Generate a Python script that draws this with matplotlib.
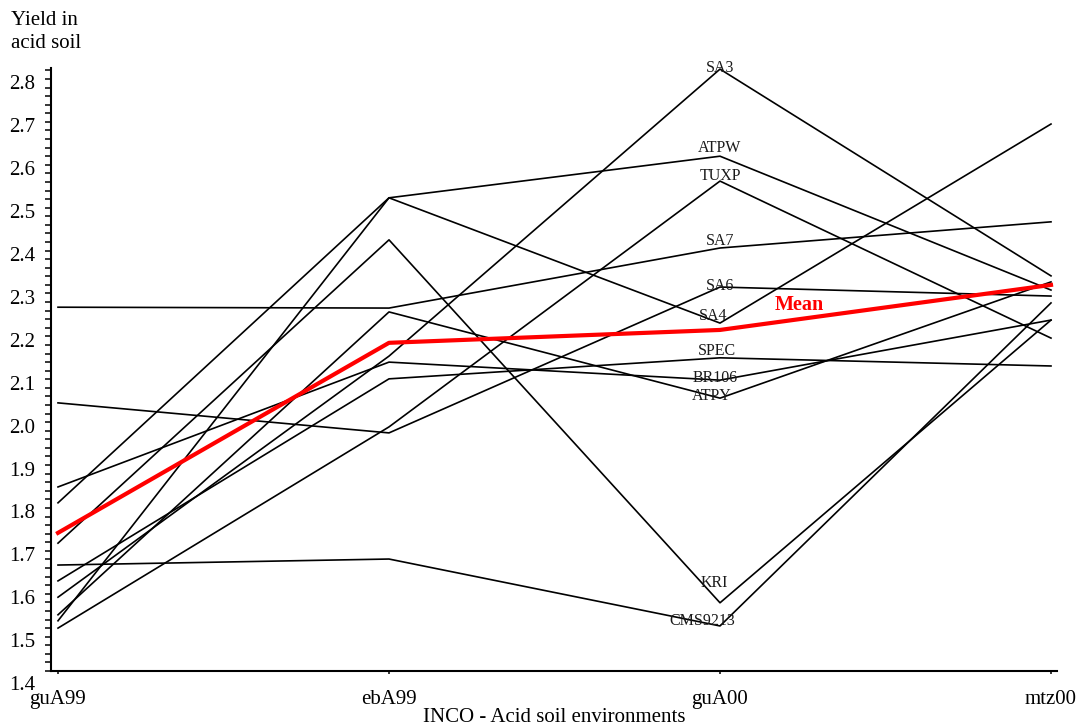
import matplotlib
matplotlib.use("Agg")
import matplotlib.pyplot as plt
from matplotlib.transforms import ScaledTranslation
import numpy as np

plt.rcParams["font.family"] = ["Liberation Serif", "DejaVu Serif"]

# Environments on the x axis
environments = ["guA99", "ebA99", "guA00", "mtz00"]

# Yield in acid soil per genotype, one value per environment
SA3 = [1.572, 2.134, 2.803, 2.321]
ATPW = [1.792, 2.503, 2.600, 2.288]
TUXP = [1.500, 1.969, 2.542, 2.176]
SA7 = [2.248, 2.246, 2.386, 2.447]
SA6 = [2.025, 1.955, 2.295, 2.274]
SA4 = [1.517, 2.503, 2.211, 2.675]
SPEC = [1.610, 2.081, 2.130, 2.111]
BR106 = [1.829, 2.120, 2.078, 2.218]
ATPY = [1.531, 2.237, 2.036, 2.307]
KRI = [1.698, 2.405, 1.559, 2.218]
CMS9213 = [1.647, 1.661, 1.505, 2.258]
mean_yield = [1.722, 2.165, 2.195, 2.300]

genotypes = ["SA3", "ATPW", "TUXP", "SA7", "SA6", "SA4", "SPEC", "BR106",
             "ATPY", "KRI", "CMS9213"]
series = [SA3, ATPW, TUXP, SA7, SA6, SA4, SPEC, BR106, ATPY, KRI, CMS9213]

y_ticks = [1.4, 1.5, 1.6, 1.7, 1.8, 1.9, 2.0, 2.1, 2.2, 2.3, 2.4, 2.5, 2.6, 2.7, 2.8]

# small pixel nudges for the genotype labels at guA00 (dx, dy)
label_nudge = {"SA3": (0, -3), "ATPW": (0, 4), "TUXP": (0, 1), "SA7": (0, 3),
               "SA6": (0, -3), "SA4": (-7, 3), "SPEC": (-3, 3), "BR106": (-5, -2),
               "ATPY": (-8, -2), "KRI": (-6, 16), "CMS9213": (-18, 1)}

fig = plt.figure(figsize=(10.78, 7.26), dpi=100)
ax = fig.add_axes([51 / 1078, 1 - 671 / 726, 1006 / 1078, 603 / 726])

x = np.arange(len(environments))
for name, vals in zip(genotypes, series):
    ax.plot(x, vals, color="black", lw=1.2, clip_on=False, zorder=2)
    dx, dy = label_nudge[name]
    ax.annotate(name, (x[2], vals[2]), xytext=(dx * 0.72, dy * 0.72),
                textcoords="offset points", ha="center", va="baseline",
                fontsize=11.5, color="#1a1a1a", zorder=4)

ax.plot(x, mean_yield, color="#ff0000", lw=3.0, clip_on=False, zorder=3)
mx = 2.24
ax.annotate("Mean", (mx, np.interp(mx, x, mean_yield)), xytext=(0, 3),
            textcoords="offset points", ha="center", va="bottom",
            fontsize=14.5, fontweight="bold", color="#ff0000", zorder=4)

ax.set_xlim(-7 / 331, 999 / 331)
ax.set_ylim(1.4, 1.4 + 603 / 429)

ax.set_xticks(x)
ax.set_xticklabels(environments)
ax.set_yticks(y_ticks)
ax.set_yticklabels([f"{v:.1f}" for v in y_ticks])
ax.set_yticks(np.arange(1.4, 2.8001, 0.02), minor=True)

for side in ("top", "right"):
    ax.spines[side].set_visible(False)
for side in ("left", "bottom"):
    ax.spines[side].set_linewidth(1.5)

ax.tick_params(axis="y", which="both", direction="out", length=4.3,
               width=1.1, labelsize=15, pad=7)
ax.tick_params(axis="x", direction="out", length=2.5, width=1.1,
               labelsize=15, pad=11)

# tick labels sit a little below their ticks
shift = ScaledTranslation(0, -12 / 100, fig.dpi_scale_trans)
for lab in ax.get_yticklabels():
    lab.set_transform(lab.get_transform() + shift)

fig.text(11 / 1078, 1 - 11 / 726, "Yield in\nacid soil", ha="left", va="top",
         fontsize=15, linespacing=1.3)
fig.text(554 / 1078, 1 - 717 / 726, "INCO - Acid soil environments",
         ha="center", va="center", fontsize=15)

fig.savefig("out.png", dpi=100)
